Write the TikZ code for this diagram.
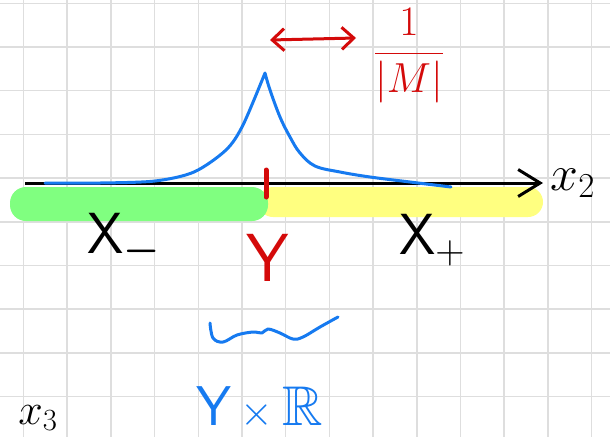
\RequirePackage{fix-cm}
\documentclass[tikz,border=0pt]{standalone}
\usepackage{amsmath}
\usepackage{amssymb}
\usepackage{tikz}
\usepackage{xcolor}
\usetikzlibrary{arrows.meta}
\definecolor{penblue}{RGB}{22,122,240}
\definecolor{penred}{RGB}{212,10,10}
\definecolor{hlgreen}{RGB}{128,255,128}
\definecolor{hlyellow}{RGB}{255,255,128}
\definecolor{gridgray}{RGB}{222,222,222}
\tikzset{
  hand/.style={line width=3pt,line cap=round,line join=round},
  gridline/.style={gridgray,line width=1.5pt},
  bigtext/.style={inner sep=0pt,font=\fontsize{58}{62}\selectfont\sffamily},
}

\begin{document}
\begin{tikzpicture}[x=1pt,y=-1pt]
\useasboundingbox[fill=white] (0,0) rectangle (610,437);
% squared paper
\foreach \gx in {0,...,13} \draw[gridline] ({23.5+43.7*\gx},0) -- ++(0,437);
\foreach \gy in {0,...,9} \draw[gridline] (0,{3.3+43.7*\gy}) -- ++(610,0);
% the two halves
\fill[hlyellow,rounded corners=15pt] (258,187) rectangle (543,217);
\fill[hlgreen,rounded corners=16pt] (10,187) rectangle (268,221);
\coordinate (xl) at (25,183);
\coordinate (xr) at (543,183);
\draw[line width=3pt,-{Straight Barb[length=22pt,width=27pt,line width=3pt]}] (xl) -- (xr) node[right=6pt,inner sep=0pt] (xtwo) {\fontsize{50}{54}\selectfont$x_2$};
% profile
\draw[hand,penblue] plot[smooth,tension=0.5] coordinates {(45,183) (100,183) (155,181) (194,172) (226,150) (243,125) (265,73)}
  plot[smooth,tension=0.6] coordinates {(265,73) (270,90) (280,117) (290,137) (300,153) (315,166) (340,172) (370,177) (410,182) (451,187)};
\draw[penred,line width=5pt,line cap=round] (266,170) -- (266,197);
\node[bigtext] (xm) at (124,240) {X$_{\boldsymbol{-}}$};
\node[bigtext] (xp) at (432,240) {X$_{+}$};
\node[bigtext,penred,font=\fontsize{68}{72}\selectfont\sffamily] (y) at (268,258) {Y};
% scale
\coordinate (al) at (270,40);
\coordinate (ar) at (356,38);
\draw[hand,penred,{Straight Barb[length=12pt,width=22pt,line width=3pt]}-{Straight Barb[length=12pt,width=22pt,line width=3pt]}] (al) -- (ar);
\node[penred,inner sep=0pt,font=\fontsize{42}{46}\selectfont] (frac) at (409,56) {$\dfrac{1}{|M|}$};
% brace and product
\draw[hand,penblue] plot[smooth,tension=0.6] coordinates {(210,323) (213,338) (223,342) (237,335) (253,332) (262,333) (268,329) (280,333) (293,339) (303,337) (320,327) (338,317)};
\node[bigtext,penblue,font=\fontsize{56}{60}\selectfont\sffamily] (yr) at (260,408) {Y\,{\fontsize{42}{46}\selectfont$\times$}\,$\mathbb{R}$};
\node[inner sep=0pt,font=\fontsize{44}{48}\selectfont] (xthree) at (38,418) {$x_3$};
\end{tikzpicture}
\end{document}
